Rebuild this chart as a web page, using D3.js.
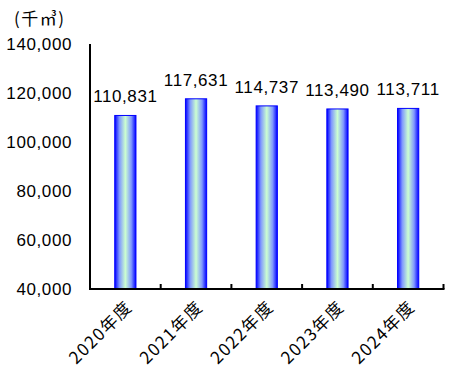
<!DOCTYPE html>
<html><head><meta charset="utf-8">
<script src="https://cdn.jsdelivr.net/npm/d3@7/dist/d3.min.js"></script>
<style>body{margin:0;background:#fff}svg{display:block}</style>
</head><body>
<script>
const categories = ["2020年度","2021年度","2022年度","2023年度","2024年度"];
const values = [110831,117631,114737,113490,113711];
const yTicks = [40000,60000,80000,100000,120000,140000];
const unitLabel = "(千㎥)";

(function(){
const W=450,H=375;
const svg=d3.select("body").append("svg").attr("width",W).attr("height",H);
const pl=90, pr=443.5, pt=44, pb=289;
const x=d3.scaleBand().domain(categories).range([pl,pr]).paddingInner(0.7).paddingOuter(0.35);
const xb=d3.scaleBand().domain(categories).range([pl,pr]);
const y=d3.scaleLinear().domain([40000,140000]).range([pb,pt]);
const fmt=d3.format(",");
const font="'Liberation Sans', Arial, sans-serif";

const defs=svg.append("defs");
const g=defs.append("linearGradient").attr("id","bg").attr("x1","0").attr("x2","1").attr("y1","0").attr("y2","0");
[[0,"#0000ff"],[0.22,"#8098ff"],[0.5,"#ccffd0"],[0.78,"#8098ff"],[1,"#0000ff"]].forEach(s=>
  g.append("stop").attr("offset",s[0]).attr("stop-color",s[1]));

svg.append("text").attr("x",14).attr("y",25).attr("font-family","'Noto Sans CJK JP', sans-serif").attr("font-size",17).attr("letter-spacing","1.5px").attr("fill","#000").text(unitLabel);

svg.selectAll(".yl").data(yTicks).enter().append("text")
  .attr("x",72).attr("y",d=>y(d)).attr("dy","0.36em").attr("text-anchor","end")
  .attr("font-family",font).attr("font-size",17).attr("letter-spacing","0.6px").text(d=>fmt(d));

svg.selectAll(".bar").data(values).enter().append("rect")
  .attr("x",(d,i)=>x(categories[i])).attr("width",x.bandwidth())
  .attr("y",d=>y(d)).attr("height",d=>pb-y(d))
  .attr("fill","url(#bg)").attr("stroke","#0000ff").attr("stroke-width",1);

svg.selectAll(".vl").data(values).enter().append("text")
  .attr("x",(d,i)=>x(categories[i])+x.bandwidth()/2).attr("y",d=>y(d)-13)
  .attr("text-anchor","middle").attr("font-family",font).attr("font-size",17).attr("letter-spacing","0.6px").text(d=>fmt(d));

svg.append("line").attr("x1",pl).attr("x2",pl).attr("y1",pt).attr("y2",pb+1).attr("stroke","#000").attr("stroke-width",2);
svg.append("line").attr("x1",pl-1).attr("x2",pr+1).attr("y1",pb).attr("y2",pb).attr("stroke","#000").attr("stroke-width",2);
categories.forEach((c,i)=>{
  const tx=xb(c)+xb.bandwidth();
  svg.append("line").attr("x1",tx).attr("x2",tx).attr("y1",pb).attr("y2",pb-5).attr("stroke","#000").attr("stroke-width",2);
});

svg.selectAll(".xl").data(categories).enter().append("text")
  .attr("transform",d=>`translate(${x(d)+x.bandwidth()/2+8},${pb+19}) rotate(-45)`)
  .attr("text-anchor","end").attr("font-family","'Noto Sans CJK JP', sans-serif").attr("font-size",17).attr("letter-spacing","1.5px").text(d=>d);
})();
</script>
</body></html>
